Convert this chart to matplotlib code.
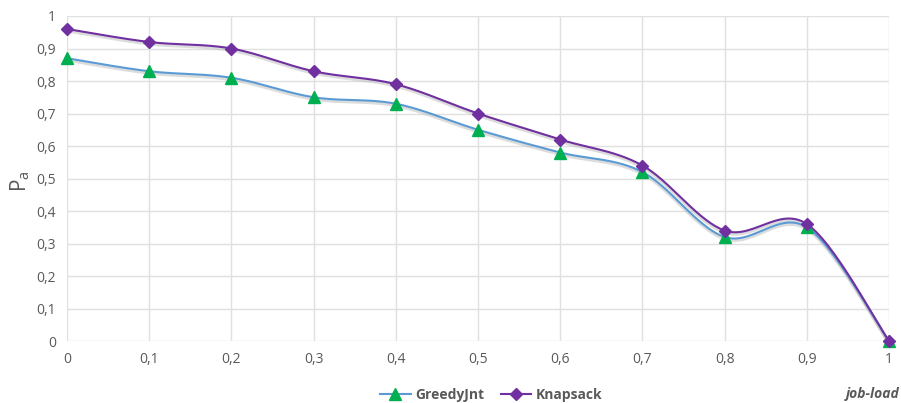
import numpy as np
import matplotlib.pyplot as plt
from matplotlib.ticker import FuncFormatter

# data
job_load = [0, 0.1, 0.2, 0.3, 0.4, 0.5, 0.6, 0.7, 0.8, 0.9, 1.0]
greedy = [0.87, 0.83, 0.81, 0.75, 0.73, 0.65, 0.58, 0.52, 0.32, 0.35, 0.0]
knapsack = [0.96, 0.92, 0.90, 0.83, 0.79, 0.70, 0.62, 0.54, 0.34, 0.36, 0.0]


def smooth(x, y, n=30):
    # excel style smoothed line (catmull-rom -> bezier)
    x = np.asarray(x, float)
    y = np.asarray(y, float)
    px = np.concatenate([[x[0]], x, [x[-1]]])
    py = np.concatenate([[y[0]], y, [y[-1]]])
    xs, ys = [], []
    t = np.linspace(0, 1, n)
    for i in range(1, len(px) - 2):
        p0 = np.array([px[i], py[i]])
        p3 = np.array([px[i + 1], py[i + 1]])
        c1 = p0 + (np.array([px[i + 1], py[i + 1]]) - np.array([px[i - 1], py[i - 1]])) / 6
        c2 = p3 - (np.array([px[i + 2], py[i + 2]]) - np.array([px[i], py[i]])) / 6
        b = ((1 - t) ** 3)[:, None] * p0 + (3 * (1 - t) ** 2 * t)[:, None] * c1 \
            + (3 * (1 - t) * t ** 2)[:, None] * c2 + (t ** 3)[:, None] * p3
        xs.extend(b[:, 0])
        ys.extend(b[:, 1])
    return xs, ys


plt.rcParams['font.family'] = ['Open Sans', 'DejaVu Sans']
grey = '#595959'

fig = plt.figure(figsize=(9.01, 4.03), dpi=100)
ax = fig.add_axes([0.0744, 0.1538, 0.9123, 0.8065])

gx, gy = smooth(job_load, greedy)
kx, ky = smooth(job_load, knapsack)

# soft shadow under the lines
ax.plot(gx, np.array(gy) - 0.006, color='#bbbbbb', lw=2.2, alpha=0.5, zorder=2)
ax.plot(kx, np.array(ky) - 0.006, color='#bbbbbb', lw=2.2, alpha=0.5, zorder=2)

ax.plot(gx, gy, color='#5B9BD5', lw=1.5, zorder=3)
ax.plot(kx, ky, color='#7030A0', lw=1.5, zorder=3)
ax.plot(job_load, greedy, ls='none', marker='^', ms=8, color='#00B050', zorder=4, clip_on=False)
ax.plot(job_load, knapsack, ls='none', marker='D', ms=6.5, color='#7030A0', zorder=5, clip_on=False)

# legend handles
ax.plot([], [], color='#5B9BD5', lw=1.5, marker='^', ms=8, mfc='#00B050', mec='#00B050', label='GreedyJnt')
ax.plot([], [], color='#7030A0', lw=1.5, marker='D', ms=6.5, label='Knapsack')

ax.set_xlim(0, 1)
ax.set_ylim(0, 1)
ax.set_xticks(job_load)
ax.set_yticks(np.arange(0, 1.01, 0.1))
fmt = FuncFormatter(lambda v, p: ('%g' % round(v, 2)).replace('.', ','))
ax.xaxis.set_major_formatter(fmt)
ax.yaxis.set_major_formatter(fmt)
ax.tick_params(length=0, labelsize=10, colors=grey, pad=8)
ax.grid(True, color='#E0E0E0', lw=1)
ax.set_axisbelow(True)
for s in ax.spines.values():
    s.set_visible(False)

fig.text(0.022, 0.55, r'P$_\mathregular{a}$', rotation=90, fontsize=15, color=grey,
         ha='center', va='center')
fig.text(0.998, 0.005, 'job-load', fontsize=10, color=grey, fontweight='bold',
         style='italic', ha='right', va='bottom')

leg = fig.legend(loc='lower center', bbox_to_anchor=(0.545, -0.028), ncol=2, frameon=False,
                 fontsize=10, handlelength=2.2, columnspacing=1.2, handletextpad=0.3)
for t in leg.get_texts():
    t.set_color(grey)
    t.set_fontweight('bold')

fig.savefig('out.png', dpi=100)
